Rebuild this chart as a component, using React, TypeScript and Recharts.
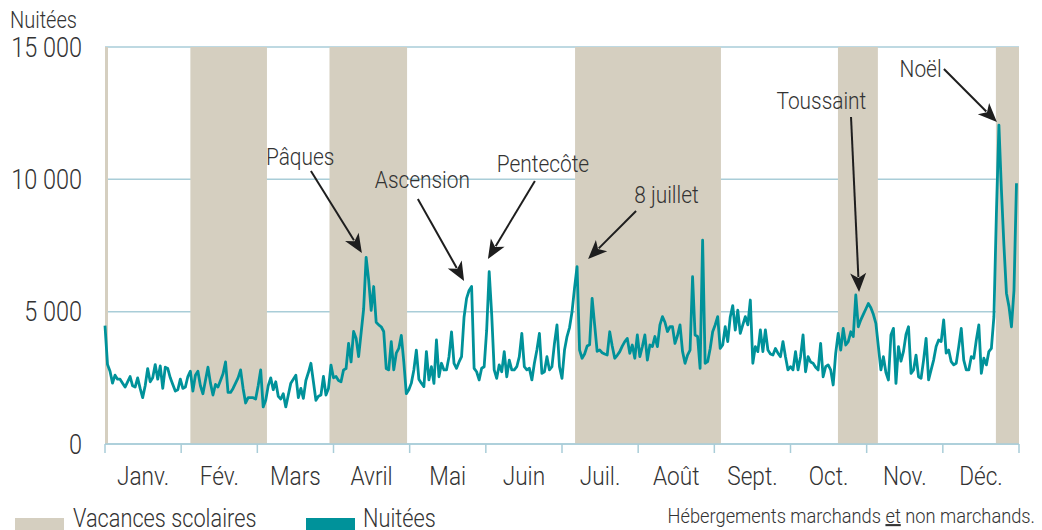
import { LineChart, Line, XAxis, YAxis, CartesianGrid, ReferenceArea, ReferenceLine, ReferenceDot } from "recharts";

const months = ["Janv.", "Fév.", "Mars", "Avril", "Mai", "Juin", "Juil.", "Août", "Sept.", "Oct.", "Nov.", "Déc."];

// nuitées journalières, jour 0 = 1er janvier
const nuitees = [
  4470, 3000, 2750, 2300, 2600, 2450, 2450, 2300, 2150, 2350,
  2550, 2200, 2150, 2500, 2100, 1750, 2200, 2850, 2350, 2500,
  3000, 2450, 2950, 2100, 2900, 2850, 2500, 2250, 2000, 2050,
  2450, 2100, 2150, 2550, 2750, 2000, 2600, 2750, 2200, 1900,
  2400, 2900, 2300, 1850, 2250, 2150, 2400, 2650, 3100, 1950,
  1950, 2100, 2300, 2500, 2800, 2100, 1550, 1750, 1750, 1750,
  1700, 2200, 2800, 1400, 1650, 2200, 2500, 2050, 2350, 1800,
  1700, 1900, 1400, 1850, 2300, 2450, 2600, 1750, 2100, 1725,
  2400, 2700, 3050, 2350, 1650, 1800, 1850, 2550, 1850, 2100,
  2980, 2500, 2550, 2400, 2350, 2800, 2850, 3800, 3100, 4250,
  4000, 3300, 4200, 5100, 7050, 6200, 5050, 5950, 4600, 4500,
  4430, 4250, 2850, 2800, 3870, 2800, 3430, 3610, 4100, 3100,
  1900, 2050, 2300, 2800, 3550, 2450, 2300, 2170, 3490, 2420,
  2920, 2290, 3930, 2540, 3050, 2800, 2800, 3300, 4240, 3050,
  2860, 3100, 3300, 4800, 5500, 5800, 5950, 2860, 2730, 2420,
  2860, 2920, 4300, 6510, 4900, 2800, 2480, 2990, 2730, 3490,
  2540, 3170, 2800, 2800, 2920, 3300, 4180, 2920, 2800, 2860,
  2420, 3050, 3550, 4180, 2670, 2730, 3300, 2800, 2920, 3800,
  4500, 2920, 2480, 3550, 4060, 4400, 5000, 5900, 6700, 3550,
  3240, 3400, 3700, 3750, 5500, 4500, 3500, 3550, 3450, 3400,
  3360, 4240, 3700, 3240, 3350, 3490, 3700, 3870, 3990, 3430,
  3740, 3240, 4120, 3300, 3680, 4120, 3170, 3740, 3680, 4060,
  3680, 4500, 4810, 4600, 4250, 4430, 4430, 3800, 4100, 4500,
  3500, 3050, 3360, 3550, 6320, 4120, 4060, 2860, 7700, 3050,
  3110, 3600, 4240, 4500, 4810, 3610, 3740, 4430, 3870, 4800,
  5230, 4300, 5060, 4180, 4500, 4810, 4500, 5440, 3050, 3680,
  3490, 4310, 3490, 4310, 3550, 3400, 3360, 3610, 3430, 3300,
  3870, 3300, 2800, 2920, 2800, 3490, 2800, 3300, 4120, 2730,
  3300, 3100, 3050, 2900, 2800, 3800, 2540, 2920, 2990, 2800,
  2230, 3430, 4180, 3550, 4370, 3740, 3870, 4240, 4060, 5630,
  4430, 4690, 4900, 5100, 5310, 5150, 4900, 4560, 3680, 2800,
  3300, 2700, 2420, 4120, 4370, 2290, 3680, 3130, 3500, 4140,
  4430, 2670, 2800, 3360, 2540, 2480, 3170, 3990, 2420, 2800,
  3170, 3680, 3930, 3870, 4690, 3430, 3550, 3110, 2990, 3050,
  3680, 4370, 3170, 2800, 2800, 3300, 3240, 3930, 4500, 2670,
  3240, 2990, 3490, 3610, 4800, 8700, 12050, 9600, 7500, 5700,
  5200, 4430, 5800, 9850,
];

// vacances scolaires, en jours depuis le 1er janvier
const vacancesDebut = [0, 34, 89.4, 187.2, 291.9, 354.8];
const vacancesFin = [1.2, 64.5, 120.3, 245.3, 307.8, 364];

const yTicks = [0, 5000, 10000, 15000];

const annotations = [
  { label: "Pâques", tx: 77.7, ty: 10540, x1: 82, y1: 10313, x2: 102.3, y2: 7216 },
  { label: "Ascension", tx: 126.4, ty: 9670, x1: 124.6, y1: 9256, x2: 143, y2: 6158 },
  { label: "Pentecôte", tx: 174.4, ty: 10265, x1: 171.2, y1: 9936, x2: 152.5, y2: 6989 },
  { label: "8 juillet", tx: 223.6, ty: 9105, x1: 211.5, y1: 8802, x2: 192.4, y2: 6989 },
  { label: "Toussaint", tx: 285.3, ty: 12656, x1: 297.1, y1: 12354, x2: 300.3, y2: 5742 },
  { label: "Noël", tx: 324.8, ty: 13853, x1: 334.1, y1: 14167, x2: 355.2, y2: 12165 },
];

const data = nuitees.map((v, i) => ({ jour: i, nuitees: v }));
const monthTicks = [...months.map((_, i) => (i * 364) / 12), 364];

const W = 1042;
const H = 530;
const PLOT_W = 914;
const SQ = 0.87; // condensed look
const FONT = "Roboto, 'Noto Sans', sans-serif";
const TEXT = "#333333";
const GRID = "#a9cdd8";
const BEIGE = "#d5cfc0";
const TEAL = "#00929a";

const fmt = (v: number) => (v === 0 ? "0" : `${Math.floor(v / 1000)} ${String(v % 1000).padStart(3, "0")}`);

const YTick = (props: any) => {
  const { x, y, payload } = props;
  return (
    <text transform={`translate(${x},${y}) scale(${SQ},1)`} textAnchor="end" dy="0.36em" fontSize={27} fontFamily={FONT} fontWeight={300} fill={TEXT}>
      {fmt(payload.value)}
    </text>
  );
};

const MonthTick = (props: any) => {
  const { x, y, index } = props;
  if (index >= months.length) return <g />;
  return (
    <text transform={`translate(${x + PLOT_W / 24},${y + 32}) scale(${SQ},1)`} textAnchor="middle" fontSize={26} fontFamily={FONT} fontWeight={300} fill={TEXT}>
      {months[index]}
    </text>
  );
};

const Arrow = (props: any) => {
  const { x1, y1, x2, y2 } = props;
  const len = Math.hypot(x2 - x1, y2 - y1);
  const ux = (x2 - x1) / len;
  const uy = (y2 - y1) / len;
  const head = 19;
  const half = 8;
  const bx = x2 - ux * head;
  const by = y2 - uy * head;
  const pts = `${x2},${y2} ${bx - uy * half},${by + ux * half} ${bx + ux * 5},${by + uy * 5} ${bx + uy * half},${by - ux * half}`;
  return (
    <g>
      <line x1={x1} y1={y1} x2={bx + ux * 4} y2={by + uy * 4} stroke="#1e1e1e" strokeWidth={2} />
      <polygon points={pts} fill="#1e1e1e" />
    </g>
  );
};

const Label = (text: string) => (props: any) => (
  <text transform={`translate(${props.cx},${props.cy}) scale(${SQ},1)`} textAnchor="middle" fontSize={24} fontFamily={FONT} fontWeight={300} fill={TEXT}>
    {text}
  </text>
);

const Condensed = ({ x, y, size, anchor = "start", children }: any) => (
  <text transform={`translate(${x},${y}) scale(${SQ},1)`} textAnchor={anchor} fontSize={size} fontFamily={FONT} fontWeight={300} fill={TEXT}>
    {children}
  </text>
);

export default function App() {
  return (
    <div style={{ position: "absolute", left: 0, top: 0, width: W, height: H, background: "#fff", overflow: "hidden" }}>
      <LineChart width={W} height={H} data={data} margin={{ top: 47, right: 23, bottom: 46, left: 0 }}>
        <CartesianGrid vertical={false} stroke={GRID} strokeWidth={1.5} />
        {vacancesDebut.map((d, i) => (
          <ReferenceArea key={i} x1={d} x2={vacancesFin[i]} y1={0} y2={15000} fill={BEIGE} fillOpacity={1} stroke="none" />
        ))}
        <XAxis
          dataKey="jour"
          type="number"
          domain={[0, 364]}
          ticks={monthTicks}
          interval={0}
          height={40}
          tickSize={9}
          tickMargin={0}
          axisLine={{ stroke: GRID, strokeWidth: 1.5 }}
          tickLine={{ stroke: GRID, strokeWidth: 1.5 }}
          tick={MonthTick}
        />
        <YAxis
          type="number"
          domain={[0, 15000]}
          ticks={yTicks}
          width={105}
          axisLine={false}
          tickLine={false}
          tickSize={0}
          tickMargin={23}
          tick={YTick}
        />
        <Line dataKey="nuitees" type="linear" stroke={TEAL} strokeWidth={2.8} dot={false} strokeLinejoin="round" isAnimationActive={false} />
        {annotations.map((a) => (
          <ReferenceLine key={a.label} segment={[{ x: a.x1, y: a.y1 }, { x: a.x2, y: a.y2 }]} shape={Arrow} />
        ))}
        {annotations.map((a) => (
          <ReferenceDot key={a.label + "t"} x={a.tx} y={a.ty} r={0} shape={Label(a.label)} />
        ))}
      </LineChart>
      <svg width={W} height={H} style={{ position: "absolute", left: 0, top: 0, pointerEvents: "none" }}>
        <Condensed x={10} y={28} size={23}>Nuitées</Condensed>
        <rect x={15} y={518} width={49} height={14} fill={BEIGE} />
        <Condensed x={73} y={527} size={25}>Vacances scolaires</Condensed>
        <rect x={306} y={518} width={49} height={14} fill={TEAL} />
        <Condensed x={363} y={527} size={25}>Nuitées</Condensed>
        <Condensed x={1035} y={523} size={21} anchor="end">
          Hébergements marchands <tspan style={{ textDecoration: "underline" }}>et</tspan> non marchands.
        </Condensed>
      </svg>
    </div>
  );
}
